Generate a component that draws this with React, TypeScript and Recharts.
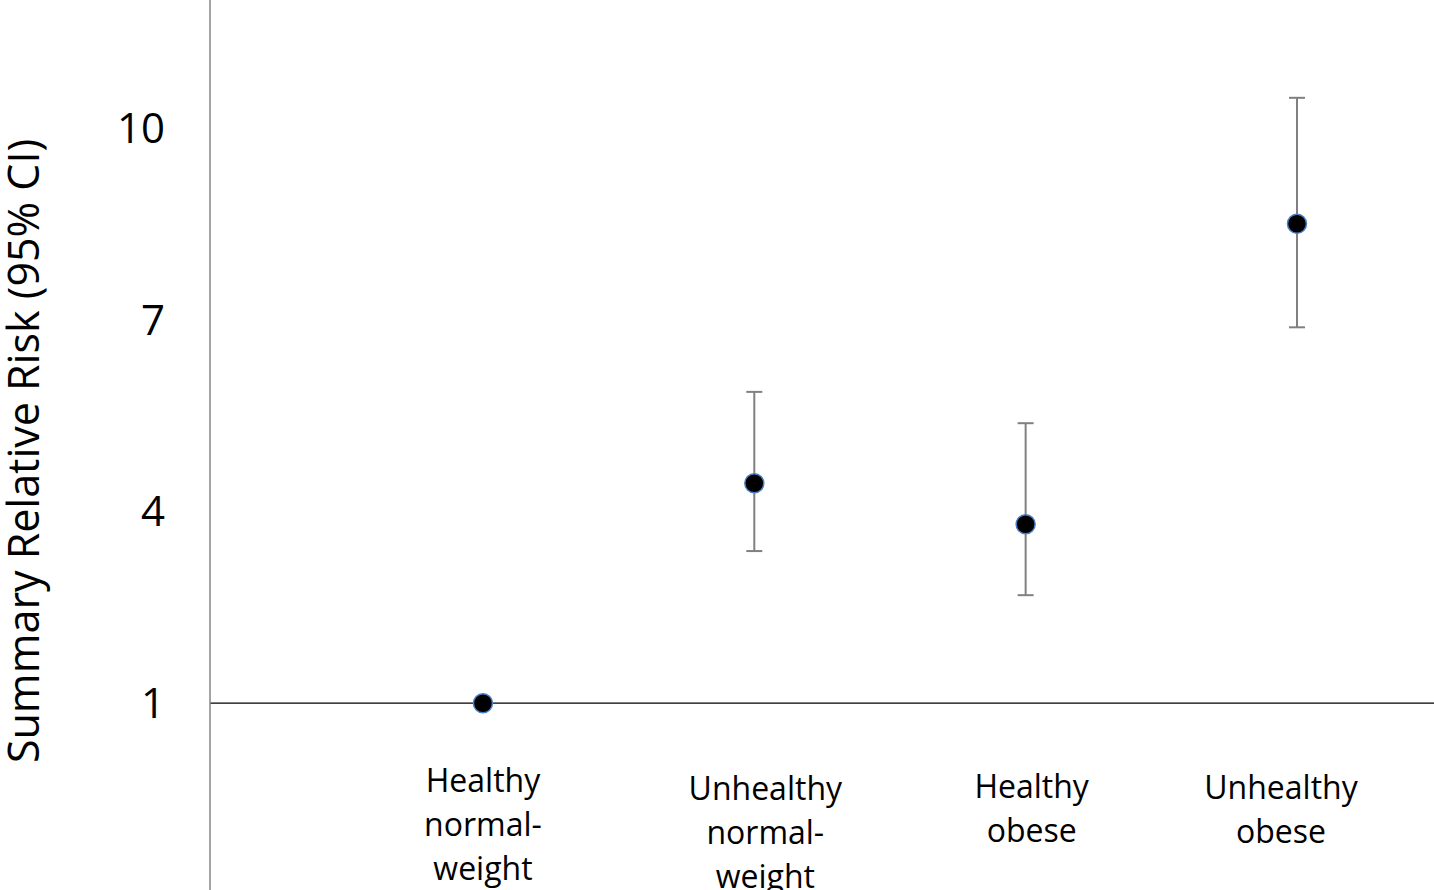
import {
  ErrorBar,
  Label,
  ReferenceLine,
  Scatter,
  ScatterChart,
  XAxis,
  YAxis,
} from "recharts";

const CATEGORIES = [
  "Healthy normal-weight",
  "Unhealthy normal-weight",
  "Healthy obese",
  "Unhealthy obese",
];
const RISK = [1.0, 4.44, 3.8, 8.5];
const CI_LOW = [1.0, 3.38, 2.69, 6.88];
const CI_HIGH = [1.0, 5.87, 5.38, 10.47];
const Y_TICKS = [1, 4, 7, 10];

// the category captions are loose text boxes in the original, slightly off their points
const LABEL_NUDGE: [number, number][] = [
  [0, -3],
  [11, 5],
  [6, 3],
  [-16, 4],
];

const FONT = "'Open Sans', 'Liberation Sans', sans-serif";

const data = CATEGORIES.map((name, i) => ({
  pos: i + 1,
  name,
  risk: RISK[i],
  err: [RISK[i] - CI_LOW[i], CI_HIGH[i] - RISK[i]],
}));

// "Healthy normal-weight" -> ["Healthy", "normal-", "weight"]
function wrapLabel(text: string): string[] {
  return text
    .split(" ")
    .flatMap((w) => (w.includes("-") ? [w.slice(0, w.indexOf("-") + 1), w.slice(w.indexOf("-") + 1)] : [w]));
}

function CategoryTick(props: any) {
  const { x, y, payload } = props;
  const idx = Math.round(payload?.value ?? 1) - 1;
  const name = CATEGORIES[idx];
  if (!name) return null;
  const [dx, dy] = LABEL_NUDGE[idx] ?? [0, 0];
  const lines = wrapLabel(name);
  return (
    <text x={x + dx} y={y - 100 + dy} textAnchor="middle" fontSize={32} fontFamily={FONT} fill="#000">
      {lines.map((line, i) => (
        <tspan key={i} x={x + dx} dy={i === 0 ? 0 : 44}>
          {line}
        </tspan>
      ))}
    </text>
  );
}

function Dot({ cx, cy }: { cx?: number; cy?: number }) {
  return <circle cx={cx} cy={cy} r={9.5} fill="#000" stroke="#4a7fc4" strokeWidth={1.5} />;
}

export default function App() {
  return (
    <div
      style={{
        position: "fixed",
        left: 0,
        top: 0,
        width: 1434,
        height: 890,
        overflow: "hidden",
        background: "#fff",
      }}
    >
      <ScatterChart width={1434} height={900} margin={{ top: 0, right: 0, bottom: 0, left: 0 }}>
        <XAxis
          type="number"
          dataKey="pos"
          domain={[-0.006, 4.505]}
          ticks={[1, 2, 3, 4]}
          interval={0}
          height={5}
          axisLine={false}
          tickLine={false}
          tickSize={0}
          tickMargin={0}
          tick={CategoryTick}
          allowDataOverflow
        />
        <YAxis
          type="number"
          dataKey="risk"
          domain={[-2, 12]}
          ticks={Y_TICKS}
          width={210}
          tickLine={false}
          tickSize={0}
          tickMargin={45}
          axisLine={{ stroke: "#868686", strokeWidth: 1.5 }}
          tick={{ fill: "#000", fontSize: 42, fontFamily: FONT }}
          allowDataOverflow
        >
          <Label
            content={() => (
              <text
                transform="translate(39, 451) rotate(-90)"
                textAnchor="middle"
                fontSize={43}
                fontFamily={FONT}
                fill="#000"
              >
                Summary Relative Risk (95% CI)
              </text>
            )}
          />
        </YAxis>
        <ReferenceLine y={1} stroke="#000" strokeWidth={1.2} />
        <Scatter data={data} shape={<Dot />} isAnimationActive={false}>
          <ErrorBar dataKey="err" direction="y" width={8} stroke="#808080" strokeWidth={2} />
        </Scatter>
      </ScatterChart>
    </div>
  );
}
